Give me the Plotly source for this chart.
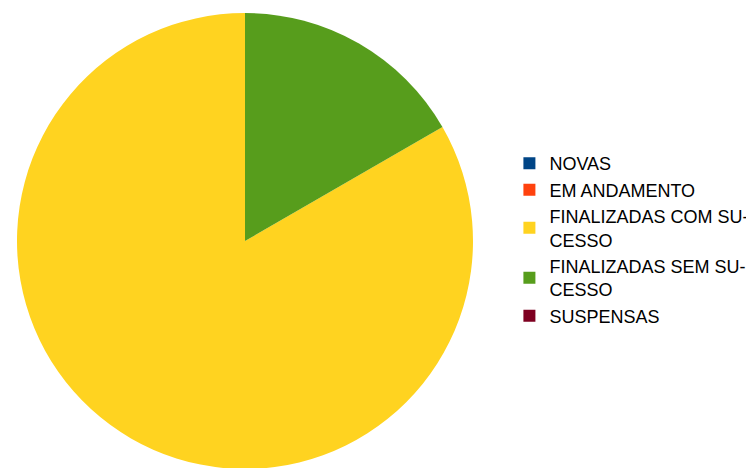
import plotly.graph_objects as go

labels = ["NOVAS", "EM ANDAMENTO", "FINALIZADAS COM SU-<br>CESSO", "FINALIZADAS SEM SU-<br>CESSO", "SUSPENSAS"]
values = [0, 0, 5, 1, 0]
colors = ["#004586", "#ff420e", "#ffd320", "#579d1c", "#7e0021"]

fig = go.Figure(go.Pie(
    labels=labels, values=values, sort=False,
    direction="counterclockwise", rotation=0,
    marker=dict(colors=colors, line=dict(width=0)),
    textinfo="none", hoverinfo="label+value",
    domain=dict(x=[9/754, 465/754], y=[7/468, 463/468]),
))
fig.update_layout(
    width=754, height=468,
    margin=dict(l=0, r=0, t=0, b=0),
    paper_bgcolor="white", plot_bgcolor="white",
    font=dict(family="Liberation Sans, Arial, sans-serif", size=18, color="#000000"),
    legend=dict(x=0.665, y=0.505, xanchor="left", yanchor="middle",
                itemwidth=30, tracegroupgap=0, font=dict(size=18)),
)
fig.write_html("out.html")
